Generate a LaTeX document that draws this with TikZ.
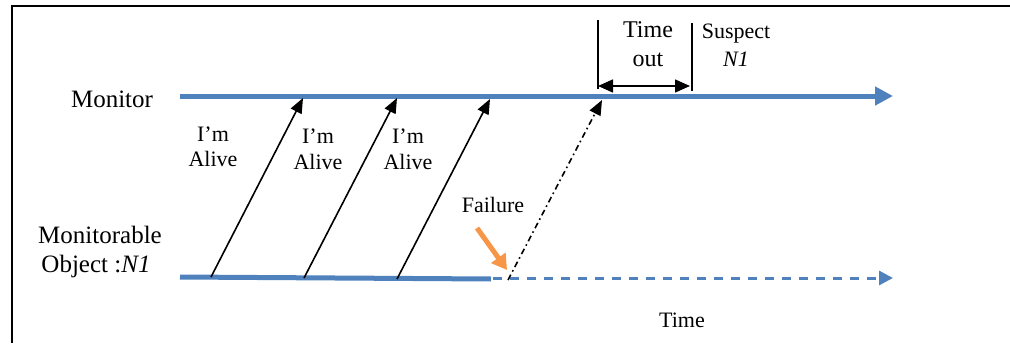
\documentclass[tikz,border=0pt]{standalone}
\usepackage{fontspec}
\setmainfont{Liberation Serif}
\usetikzlibrary{arrows.meta}
\definecolor{lineblue}{HTML}{4F81BD}
\definecolor{failorange}{HTML}{F79646}
\tikzset{
  big/.style={font=\fontsize{25}{29}\selectfont, inner sep=0pt, anchor=base},
  lbl/.style={font=\fontsize{22}{25}\selectfont, inner sep=0pt, anchor=base},
  tolbl/.style={font=\fontsize{24}{28}\selectfont, inner sep=0pt, anchor=base},
  timeline/.style={draw=lineblue, line width=5pt},
  msg/.style={draw=black, line width=1.6pt, -{Triangle[length=15pt,width=12pt]}},
  lost/.style={msg, dash pattern=on 6pt off 3.5pt on 1.6pt off 3.5pt},
  bar/.style={draw=black, line width=1.6pt},
}
\begin{document}
\begin{tikzpicture}[x=1pt, y=-1pt]
\useasboundingbox (0,0) rectangle (1010,343);

% frame
\draw[line width=2pt] (12,343) -- (12,6) -- (1010,6);

% time lines
\coordinate (monStart) at (180,96);
\coordinate (monEnd) at (893,96);
\coordinate (objStart) at (180,277);
\coordinate (objFail) at (491,279);
\coordinate (objDash) at (493,278);
\coordinate (objEnd) at (893,278);
\draw[timeline, -{Triangle[length=18pt,width=18pt]}] (monStart) -- (monEnd);
\draw[timeline] (objStart) -- (objFail);
\draw[draw=lineblue, line width=3pt, dash pattern=on 9pt off 8pt,
      -{Triangle[length=14pt,width=14pt]}] (objDash) -- (objEnd);

% heartbeat messages
\coordinate (o1) at (211,277);
\coordinate (o2) at (304,278);
\coordinate (o3) at (397,279);
\coordinate (o4) at (508,280);
\coordinate (m1) at (303,98);
\coordinate (m2) at (397,98);
\coordinate (m3) at (490,99);
\coordinate (m4) at (602,100);
\draw[msg] (o1) -- (m1);
\draw[msg] (o2) -- (m2);
\draw[msg] (o3) -- (m3);
\draw[lost] (o4) -- (m4);

% process labels
\node[big] (monitor) at (112,107) {Monitor};
\node[big] (objA) at (100,243) {Monitorable};
\node[big] (objB) at (96,272) {Object :\textit{N1}};

% message labels
\node[lbl] (a1a) at (213,141) {I’m};
\node[lbl] (a1b) at (213,166) {Alive};
\node[lbl] (a2a) at (318,143) {I’m};
\node[lbl] (a2b) at (318,169) {Alive};
\node[lbl] (a3a) at (408,143) {I’m};
\node[lbl] (a3b) at (408,169) {Alive};

% failure
\node[lbl] (failure) at (493,212) {Failure};
\coordinate (fTail) at (477,228);
\coordinate (fTip) at (507,270);
\draw[draw=failorange, line width=5pt, -{Triangle[length=15pt,width=17pt]}] (fTail) -- (fTip);

% timeout interval
\coordinate (toTopL) at (598,20);
\coordinate (toBotL) at (598,89);
\coordinate (toTopR) at (692,23);
\coordinate (toBotR) at (692,91);
\coordinate (toArrL) at (598,86);
\coordinate (toArrR) at (690,86);
\draw[bar] (toTopL) -- (toBotL);
\draw[bar] (toTopR) -- (toBotR);
\draw[bar, {Triangle[length=15pt,width=13pt]}-{Triangle[length=15pt,width=13pt]}] (toArrL) -- (toArrR);
\node[tolbl] (timeA) at (648,37) {Time};
\node[tolbl] (timeB) at (648,66) {out};
\node[lbl] (suspA) at (736,38) {Suspect};
\node[lbl] (suspB) at (736,66) {\textit{N1}};

% time axis label
\node[lbl] (time) at (682,327) {Time};
\end{tikzpicture}
\end{document}
